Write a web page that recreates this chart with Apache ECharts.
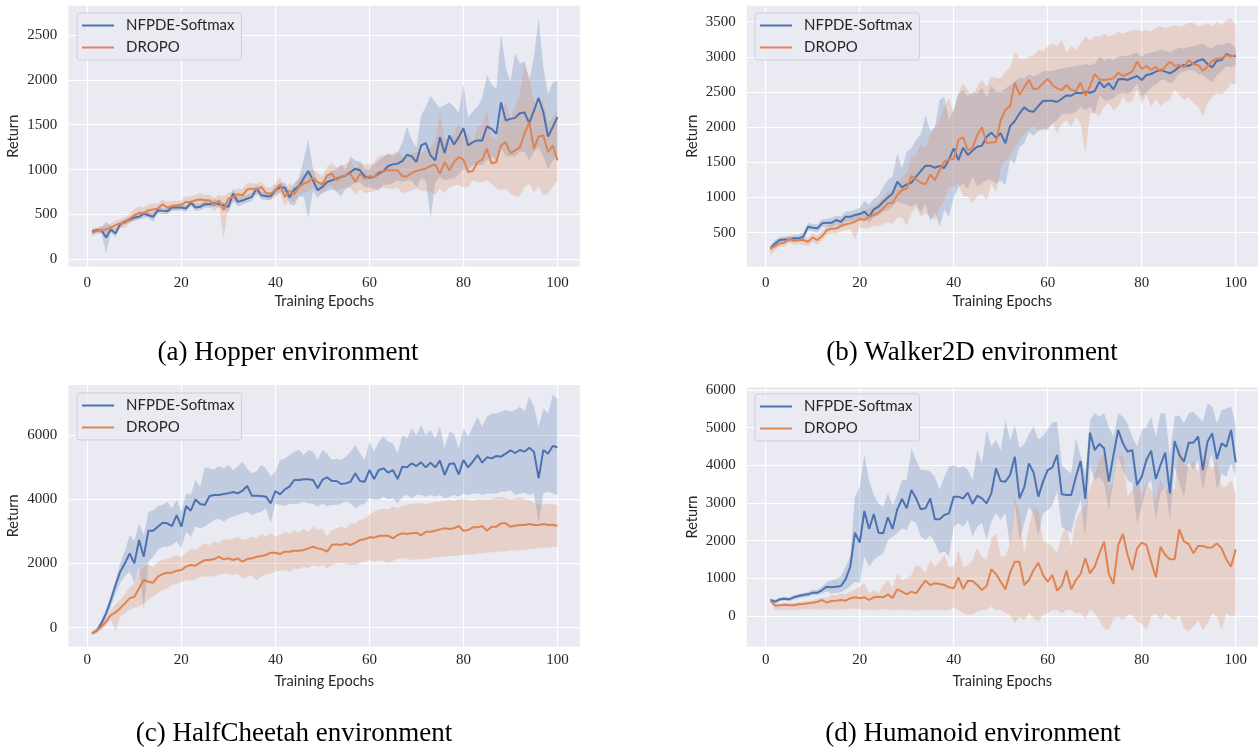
<!DOCTYPE html>
<html>
<head>
<meta charset="utf-8">
<script src="https://cdn.jsdelivr.net/npm/echarts@6/dist/echarts.min.js"></script>
<style>
  html, body { margin: 0; padding: 0; background: #fff; }
  #main { width: 1258px; height: 747px; }
</style>
</head>
<body>
<div id="main"></div>
<script>
// epochs and tick labels
var epochs = [1,2,3,4,5,6,7,8,9,10,11,12,13,14,15,16,17,18,19,20,21,22,23,24,25,26,27,28,29,30,
  31,32,33,34,35,36,37,38,39,40,41,42,43,44,45,46,47,48,49,50,51,52,53,54,55,56,57,58,59,60,
  61,62,63,64,65,66,67,68,69,70,71,72,73,74,75,76,77,78,79,80,81,82,83,84,85,86,87,88,89,90,
  91,92,93,94,95,96,97,98,99,100];
var xTicks = [0, 20, 40, 60, 80, 100];
var hopperTicks = [0, 500, 1000, 1500, 2000, 2500];
var walkerTicks = [500, 1000, 1500, 2000, 2500, 3000, 3500];
var cheetahTicks = [0, 2000, 4000, 6000];
var humanoidTicks = [0, 1000, 2000, 3000, 4000, 5000, 6000];

// (a) Hopper
var hopperNf = [307,325,325,244,333,289,392,418,444,466, 474,510,492,474,548,540,537,577,577,577,
  566,633,577,585,614,614,629,614,603,585, 733,640,655,677,696,788,714,703,703,770,
  800,800,690,777,813,900,984,880,770,807, 862,880,900,918,936,973,1010,992,925,910,
  918,955,984,1040,1058,1066,1095,1165,1147,1084, 1269,1295,1158,1103,1362,1184,1380,1280,1362,1462,
  1269,1306,1325,1325,1480,1454,1399,1750,1547,1565, 1576,1628,1635,1517,1658,1798,1639,1369,1473,1584];
var hopperNfHi = [340,350,360,420,370,340,420,450,470,500, 510,540,530,520,580,570,570,610,610,610,
  600,665,620,620,650,650,670,650,640,640, 790,700,700,720,740,830,760,740,740,820,
  850,860,760,850,900,1100,1340,1000,850,870, 950,990,1000,1050,1000,1150,1100,1090,1010,1000,
  1060,1100,1140,1180,1150,1190,1300,1480,1330,1250, 1600,1700,1820,1750,1690,1720,1750,1700,1640,1950,
  1580,1650,1700,1800,2050,1950,1900,2510,2140,1980, 2300,2180,2210,1990,2250,2690,2140,1840,1970,1990];
var hopperNfLo = [280,300,290,70,300,250,360,390,410,430, 440,480,460,420,510,505,500,545,545,545,
  530,600,540,550,575,575,590,575,560,520, 650,590,610,630,650,740,670,660,660,720,
  750,740,620,600,700,700,460,760,690,740, 760,780,760,700,800,820,860,860,810,800,
  790,770,830,830,850,880,860,880,880,800, 900,880,455,850,920,880,900,900,950,1000,
  1000,1050,1050,1050,1100,1150,1100,1250,1150,1150, 1150,1200,1200,1100,1200,1250,1150,1000,1100,1150];
var hopperDr = [296,315,326,333,355,381,400,407,455,492, 518,511,548,555,566,614,577,592,603,611,
  640,640,659,666,659,659,603,659,548,677, 696,725,714,777,788,777,807,740,733,770,
  833,696,762,725,807,844,862,906,862,833, 936,955,881,925,936,955,862,955,899,925,
  918,973,984,992,992,992,925,925,962,984, 999,1010,1040,1058,955,1084,992,1084,1140,1110,
  973,984,1084,1110,1232,1066,1084,1269,1306,1184, 1214,1251,1399,1528,1232,1369,1380,1195,1269,1103];
var hopperDrHi = [330,350,370,380,400,430,450,470,510,560, 590,580,610,620,620,670,640,650,650,660,
  700,700,720,740,720,720,680,720,700,740, 760,790,780,850,850,840,870,800,800,850,
  920,780,850,800,900,950,980,1010,960,930, 1030,1080,1020,1050,1060,1100,1000,1080,1050,1060,
  1080,1150,1160,1170,1180,1200,1150,1140,1180,1200, 1180,1220,1250,1320,1620,1350,1300,1400,1520,1380,
  1400,1290,1470,1510,1660,1360,1330,1550,1770,1550, 1700,1840,2180,2030,1770,1700,1770,1510,1580,1660];
var hopperDrLo = [260,280,290,290,310,330,350,350,400,430, 460,450,490,500,510,560,520,540,550,560,
  580,580,600,600,600,600,530,600,230,610, 630,660,650,700,720,710,740,680,670,690,
  740,600,670,640,720,740,760,800,760,740, 800,820,750,800,780,800,720,780,740,750,
  760,790,800,790,780,800,740,750,770,790, 770,760,750,720,790,740,800,820,830,800,
  810,880,860,860,880,840,790,770,790,730, 700,700,810,840,750,810,710,730,810,880];

// (b) Walker2D
var walkerNf = [277,348,396,405,405,420,420,443,585,570, 562,633,640,640,680,656,728,728,751,765,
  799,728,832,870,941,1002,1059,1225,1145,1187, 1211,1296,1377,1453,1453,1424,1450,1420,1543,1699,
  1533,1709,1604,1666,1723,1737,1865,1922,1851,1913, 1771,2017,2088,2197,2282,2230,2220,2301,2372,2377,
  2377,2358,2405,2452,2447,2490,2481,2505,2490,2515, 2647,2567,2624,2538,2680,2685,2671,2700,2728,2671,
  2742,2756,2790,2813,2790,2766,2804,2860,2884,2870, 2908,2946,2965,2898,2851,2946,2955,3040,3012,3012];
var walkerNfHi = [320,400,440,450,450,470,470,500,640,620, 620,690,700,710,740,730,800,800,830,850,
  950,900,980,1030,1150,1250,1300,1630,1420,1650, 1700,1820,1900,2170,1950,2000,2390,2430,2100,2250,
  2480,2530,2440,2500,2480,2560,2420,2600,2500,2500, 2550,2600,2650,2700,2700,2750,2720,2750,2800,2800,
  2800,2820,2830,2850,2860,2870,2880,2900,2880,2900, 3000,2950,2980,2950,3000,3020,3010,3040,3060,3000,
  3050,3060,3080,3100,3090,3060,3100,3130,3120,3140, 3150,3170,3190,3140,3120,3180,3160,3200,3190,3120];
var walkerNfLo = [230,300,350,360,360,370,370,390,530,520, 500,580,580,570,620,590,660,660,670,680,
  700,640,720,740,800,820,870,950,920,900, 870,920,780,920,660,780,590,820,730,1000,
  1150,1200,1120,1300,1160,1200,1250,1250,1200,1240, 1180,1530,1480,1720,1770,1930,1880,1960,1980,1960,
  2060,2100,2190,2190,2190,2220,2290,2240,2290,2200, 2450,2380,2380,2420,2470,2490,2470,2520,2620,2430,
  2490,2570,2600,2670,2670,2620,2670,2770,2790,2810, 2810,2760,2740,2690,2640,2740,2790,2870,2850,2880];
var walkerDr = [277,310,348,358,420,386,396,396,372,434, 396,453,538,557,560,595,618,633,656,694,
  680,728,751,789,846,917,927,1036,1107,1126, 1306,1258,1211,1187,1330,1249,1391,1510,1543,1543,
  1818,1856,1676,1699,1889,1998,1771,1785,1785,2102, 2244,2301,2633,2458,2567,2671,2538,2552,2624,2685,
  2600,2552,2529,2600,2529,2515,2633,2444,2586,2756, 2680,2671,2680,2694,2775,2728,2756,2790,2932,2827,
  2870,2813,2860,2790,2860,2932,2870,2884,2851,2955, 2894,2884,2804,2860,2941,2974,2979,3026,3003,3026];
var walkerDrHi = [310,350,390,400,460,430,440,450,430,490, 460,520,600,620,630,660,700,720,740,790,
  800,850,880,920,1000,1090,1100,1200,1300,1350, 1580,1600,1760,1700,1900,2000,2100,2280,2420,2200,
  2480,2620,2530,2440,2580,2670,2580,2720,2700,2700, 2790,2840,3070,2980,2960,3000,3020,3100,3080,3150,
  3190,3150,3240,3050,3150,3100,3190,3290,3240,3290, 3290,3330,3290,3310,3360,3330,3360,3380,3380,3360,
  3380,3360,3410,3430,3410,3430,3450,3430,3450,3480, 3480,3430,3450,3480,3430,3500,3450,3520,3550,3450];
var walkerDrLo = [180,250,300,300,360,330,340,330,310,370, 330,390,470,490,490,520,540,550,400,590,
  560,560,600,600,620,650,620,720,720,600, 775,870,730,775,730,680,870,965,1160,1150,
  1200,1020,1020,920,1020,1060,960,1200,1080,1440, 1530,1580,1720,1820,1910,1960,2010,1940,1960,1980,
  2050,1910,2050,2100,2000,2150,2050,1630,2200,2200, 2150,2290,2340,2240,2290,2430,2340,2380,2530,2340,
  2460,2290,2410,2290,2360,2390,2530,2460,2390,2430, 2340,2290,2150,2340,2430,2480,2460,2530,2620,2600];

// (c) HalfCheetah
var cheetahNf = [-176,-93,135,446,862,1329,1744,2003,2315,2003, 2730,2211,3021,3021,3145,3270,3249,3166,3508,3145,
  3789,3643,3996,3851,3820,4100,4131,4131,4162,4183, 4225,4183,4266,4411,4110,4110,4100,4079,3872,4256,
  4152,4308,4391,4598,4598,4619,4619,4598,4339,4600, 4680,4567,4567,4474,4494,4546,4806,4567,4546,4910,
  4629,4910,4962,4827,4910,4629,5014,4993,5118,5034, 5149,4993,5139,4993,5201,4754,5097,5118,4775,5222,
  4993,5170,5377,5139,5305,5274,5346,5325,5419,5522, 5439,5533,5481,5605,5481,4650,5533,5419,5657,5616];
var cheetahNfHi = [-130,-20,250,600,1000,1500,2000,2400,2880,2700, 3250,2890,3610,3660,3790,3820,3920,3720,3980,3610,
  4180,4140,4600,4390,5010,4960,4930,5030,4960,5070, 4910,5030,5170,4960,4810,4860,5070,4960,4700,4860,
  5220,5270,5380,5480,5530,5380,5530,5480,5220,5530, 5430,5220,5270,5220,5330,5480,5690,5430,5220,5790,
  5480,5790,5950,5790,5740,5430,6000,5900,6210,6000, 6310,6000,6160,5900,6260,5590,6100,6050,5590,6210,
  5950,6260,6570,6260,6570,6670,6670,6730,6780,6730, 6780,6880,6730,7190,6880,6260,6830,6670,7250,7140];
var cheetahNfLo = [-220,-170,30,300,650,1050,1400,1600,1750,1400, 1900,550,2050,2210,2420,2520,2520,2570,2680,2470,
  2990,2830,3150,3100,3150,3250,3350,3400,3300,3400, 3460,3510,3560,3610,3510,3560,3610,3720,3250,3870,
  3820,3790,3870,3850,3870,3920,3870,3870,3770,3870, 3790,3820,3820,3870,3920,3870,3720,3820,3870,4030,
  3980,3980,4080,4000,4030,3870,4080,4130,4030,4130, 4130,4080,4130,4080,4130,4030,4080,4130,4080,4180,
  4130,4180,4180,4130,4180,4180,4180,4230,4230,4280, 4130,4180,4200,4130,4180,3250,4180,4230,4180,4130];
var cheetahDr = [-176,-93,31,187,394,477,602,758,913,965, 1225,1484,1432,1401,1588,1671,1713,1713,1775,1796,
  1900,1951,1930,2024,2107,2107,2138,2211,2128,2160, 2107,2160,2055,2138,2160,2211,2232,2263,2335,2335,
  2294,2367,2367,2398,2398,2419,2470,2522,2470,2440, 2367,2574,2595,2574,2626,2574,2647,2730,2751,2813,
  2803,2855,2865,2865,2782,2886,2938,2917,2938,2958, 2875,2990,2990,3021,3062,3093,3072,3093,3166,3021,
  3041,3124,3124,3166,3021,3145,3145,3249,3249,3145, 3176,3197,3197,3228,3197,3197,3228,3197,3207,3166];
var cheetahDrHi = [-140,-40,120,300,560,720,880,1060,1250,1400, 1800,1900,1950,1900,2060,2110,2140,2210,2260,2210,
  2320,2470,2420,2520,2630,2570,2680,2630,2750,2730, 2780,2830,2730,2780,2830,2780,2920,2830,2940,2830,
  2890,2990,2920,3040,2960,3090,2990,3150,3040,3090, 2830,3040,3090,3150,3090,3250,3250,3350,3400,3500,
  3620,3680,3700,3680,3770,3720,3800,3820,3850,3870, 3890,3850,3890,3910,3920,3950,3980,3950,4000,4010,
  3980,3950,4010,3990,3980,4010,4060,4080,4040,3990, 4030,4060,4000,3960,3890,3850,3830,3850,3840,3820];
var cheetahDrLo = [-220,-160,-60,80,250,-100,330,450,560,620, 650,760,860,970,1070,1170,1220,1330,1360,1430,
  1480,1480,1510,1590,1590,1610,1590,1640,1690,1670, 1640,1670,1540,1590,1640,1480,1590,1670,1690,1740,
  1780,1800,1740,1850,1820,1900,1850,1950,1900,1950, 1850,1950,2000,2020,1980,1950,1950,2020,2050,2100,
  2060,2100,2080,2020,2070,2140,2170,2150,2110,2120, 2130,2150,2160,2190,2200,2210,2230,2230,2250,2260,
  2280,2280,2300,2320,2330,2350,2360,2370,2380,2400, 2400,2410,2430,2440,2460,2470,2480,2490,2510,2520];

// (d) Humanoid
var humanoidNf = [425,381,443,460,443,496,531,558,575,620, 620,690,779,761,779,797,974,1310,2213,1947,
  2788,2310,2708,2213,2195,2620,2310,2832,3106,2859, 3345,3124,2832,2859,3124,2567,2567,2682,2726,3168,
  3168,3124,3275,2974,3195,3124,2991,3257,3921,3584, 3567,3744,4230,3124,3416,4053,3806,3168,3567,3876,
  3947,4275,3230,3210,3210,3699,4115,3106,4868,4407, 4567,4452,3567,4275,4938,4584,4363,4407,3478,3699,
  4142,4390,3637,4009,4337,3257,4646,4275,4098,4602, 4602,4761,3876,4629,4850,4168,4584,4496,4938,4080];
var humanoidNfHi = [470,430,490,510,500,550,590,610,640,690, 700,780,900,950,980,1050,1310,1600,3170,3430,
  4280,3610,3210,2990,2900,3260,2950,3210,3610,3610, 4450,4140,3880,3880,3830,3700,3350,3700,3960,4010,
  3920,3980,3880,3610,4410,4050,4940,4500,4670,4410, 5200,4650,5070,4470,4560,4820,5040,4690,4780,4960,
  5140,5160,4010,3880,3790,4720,4270,3790,5200,5380, 5290,5380,5020,4760,5380,5290,5110,4760,4500,4940,
  5020,5290,4760,5380,5380,4230,5290,5330,5110,5380, 5420,5290,5160,5650,5560,5110,5470,5510,5560,5070];
var humanoidNfLo = [380,330,390,410,390,440,470,500,510,550, 550,600,650,600,620,630,690,800,910,870,
  1580,1310,1490,1580,1660,2020,2110,2200,2330,2280, 2550,2460,2110,2020,2150,1930,1660,1710,1580,2370,
  2460,2370,2550,2110,2370,2460,2020,2500,2730,2550, 2730,1840,3000,2020,2460,2900,2720,2130,2720,2810,
  2940,3330,2370,2280,2200,2720,3080,2110,3960,3610, 3700,3520,2810,3610,4230,3880,3610,3520,2460,2900,
  3430,3610,2550,3250,3430,2550,3960,3520,3170,4060, 3880,4140,3340,3960,4320,3340,3790,3700,4060,3700];
var humanoidDr = [407,274,283,301,283,283,310,319,336,354, 380,425,354,398,407,425,407,469,496,469,
  496,425,496,513,496,575,478,708,646,575, 646,602,779,938,823,867,850,823,761,735,
  1027,717,938,929,823,690,797,1239,1115,912, 708,1151,1443,1443,823,956,1221,1416,1089,912,
  1089,673,805,1204,708,956,1115,1531,1133,1310, 1664,1974,1115,850,1885,2177,1620,1221,1797,1947,
  1885,1443,1027,1841,1620,1505,1505,2301,1974,1912, 1664,1859,1859,1814,1823,1929,1797,1505,1310,1770];
var humanoidDrHi = [440,330,330,350,340,345,370,380,400,420, 450,500,480,560,560,600,580,650,700,780,
  870,600,700,600,820,950,740,1130,960,1000, 1090,1350,1310,1130,1490,1310,1440,1620,1310,1310,
  1750,1310,1350,1490,1800,1580,1490,2060,2200,1580, 1580,1930,3170,2770,1660,2370,2900,2810,2020,1930,
  1840,1660,2150,2370,1840,2550,2810,2900,3390,3740, 4140,4360,3350,3610,4230,4270,3170,3350,3610,3210,
  3520,3350,3080,3610,3350,3390,3350,4580,4050,3920, 4140,3790,4270,4140,3880,4140,3430,3430,3610,3260];
var humanoidDrLo = [380,150,160,170,160,150,170,170,180,170, 170,170,180,170,170,170,180,190,190,170,
  160,170,150,160,180,170,150,170,160,160, 160,140,170,150,160,150,160,140,160,230,
  160,70,30,30,120,160,160,250,160,160, 70,30,-190,-20,-110,70,-60,-150,30,70,
  160,160,70,160,160,70,70,-60,160,70, -110,-330,-370,-60,-20,-110,30,30,-150,-190,
  -370,-20,70,-110,70,-20,-110,30,-330,-420, -280,-110,-370,-190,70,-20,-370,70,-20,30];

var blue = '#4C72B0', orange = '#DD8452';
var blueBand = 'rgba(76,114,176,0.25)', orangeBand = 'rgba(221,132,82,0.25)';
var tickFont = 'Liberation Serif', sansFont = 'Lato';

var panels = [
  { caption: '(a) Hopper environment', capX: 288, capY: 339,
    grid: { left: 68.3, top: 5.7, width: 511.7, height: 261 },
    xMin: -4.05, xMax: 104.8, yMin: -82, yMax: 2826, yTicks: hopperTicks, xMargin: 9,
    legend: { left: 77, top: 13 },
    nf: [hopperNf, hopperNfLo, hopperNfHi], dr: [hopperDr, hopperDrLo, hopperDrHi] },
  { caption: '(b) Walker2D environment', capX: 972, capY: 339,
    grid: { left: 746.7, top: 5.7, width: 511.3, height: 261 },
    xMin: -4.04, xMax: 104.74, yMin: 17, yMax: 3727, yTicks: walkerTicks, xMargin: 9,
    legend: { left: 755, top: 13 },
    nf: [walkerNf, walkerNfLo, walkerNfHi], dr: [walkerDr, walkerDrLo, walkerDrHi] },
  { caption: '(c) HalfCheetah environment', capX: 294, capY: 720,
    grid: { left: 68.3, top: 385, width: 511.7, height: 261.7 },
    xMin: -4.05, xMax: 104.8, yMin: -592, yMax: 7557, yTicks: cheetahTicks, xMargin: 6,
    legend: { left: 77, top: 393 },
    nf: [cheetahNf, cheetahNfLo, cheetahNfHi], dr: [cheetahDr, cheetahDrLo, cheetahDrHi] },
  { caption: '(d) Humanoid environment', capX: 973, capY: 720,
    grid: { left: 746.7, top: 387.3, width: 511.3, height: 259.4 },
    xMin: -4.04, xMax: 104.74, yMin: -815, yMax: 6072, yTicks: humanoidTicks, xMargin: 6,
    legend: { left: 755, top: 394 },
    nf: [humanoidNf, humanoidNfLo, humanoidNfHi], dr: [humanoidDr, humanoidDrLo, humanoidDrHi] }
];

function pairs(arr) {
  return epochs.map(function (e, i) { return [e, arr[i]]; });
}

function plainNumber(v) {
  return String(v);
}

// band drawn as one polygon through the axis scales
function bandSeries(idx, lo, hi, color) {
  return {
    type: 'custom',
    xAxisIndex: idx, yAxisIndex: idx,
    silent: true, z: 1, clip: true,
    data: epochs.map(function (e, i) { return [e, lo[i], hi[i]]; }),
    encode: { x: 0, y: [1, 2] },
    renderItem: function (params, api) {
      if (params.dataIndex !== 0) return;
      var pts = [];
      for (var i = 0; i < epochs.length; i++) pts.push(api.coord([epochs[i], hi[i]]));
      for (var j = epochs.length - 1; j >= 0; j--) pts.push(api.coord([epochs[j], lo[j]]));
      return { type: 'polygon', shape: { points: pts }, style: { fill: color } };
    }
  };
}

function lineSeries(idx, name, arr, color) {
  return {
    type: 'line', name: name,
    xAxisIndex: idx, yAxisIndex: idx,
    data: pairs(arr), color: color,
    showSymbol: false, symbol: 'none', z: 3,
    lineStyle: { width: 2, color: color }
  };
}

var grids = [], xAxes = [], yAxes = [], series = [], legends = [], titles = [];

panels.forEach(function (p, i) {
  grids.push(Object.assign({ show: true, backgroundColor: '#EAEAF2', borderWidth: 0 }, p.grid));

  xAxes.push({
    type: 'value', gridIndex: i, min: p.xMin, max: p.xMax,
    axisLine: { show: false },
    axisTick: { show: false, customValues: xTicks },
    axisLabel: { customValues: xTicks, formatter: plainNumber, margin: p.xMargin,
      fontFamily: tickFont, fontSize: 15, color: '#262626' },
    splitLine: { show: true, lineStyle: { color: '#ffffff', width: 1.2 } },
    name: 'Training Epochs', nameLocation: 'middle', nameGap: 27,
    nameTextStyle: { fontFamily: sansFont, fontSize: 14.5, color: '#262626' }
  });

  yAxes.push({
    type: 'value', gridIndex: i, min: p.yMin, max: p.yMax,
    axisLine: { show: false },
    axisTick: { show: false, customValues: p.yTicks },
    axisLabel: { customValues: p.yTicks, formatter: plainNumber, margin: 11,
      fontFamily: tickFont, fontSize: 15, color: '#262626' },
    splitLine: { show: true, lineStyle: { color: '#ffffff', width: 1.2 } },
    name: 'Return', nameLocation: 'middle', nameGap: 47,
    nameTextStyle: { fontFamily: sansFont, fontSize: 14.5, color: '#262626' }
  });

  series.push(bandSeries(i, p.nf[1], p.nf[2], blueBand));
  series.push(bandSeries(i, p.dr[1], p.dr[2], orangeBand));
  series.push(lineSeries(i, 'NFPDE-Softmax', p.nf[0], blue));
  series.push(lineSeries(i, 'DROPO', p.dr[0], orange));

  legends.push({
    data: ['NFPDE-Softmax', 'DROPO'],
    left: p.legend.left, top: p.legend.top,
    orient: 'vertical', icon: 'rect',
    itemWidth: 32, itemHeight: 2, itemGap: 5,
    padding: [4, 7, 4, 5],
    backgroundColor: 'rgba(234,234,242,0.8)',
    borderColor: '#cfcfd7', borderWidth: 1, borderRadius: 3,
    selectedMode: false,
    textStyle: { fontFamily: sansFont, fontSize: 15, color: '#262626', lineHeight: 17, padding: [0, 0, 0, 7] }
  });

  titles.push({
    text: p.caption, left: p.capX, top: p.capY, textAlign: 'center', padding: 0,
    textStyle: { fontFamily: 'Liberation Serif', fontSize: 27, fontWeight: 'normal', color: '#000' }
  });
});

var chart = echarts.init(document.getElementById('main'), null, { renderer: 'canvas' });
chart.setOption({
  animation: false,
  backgroundColor: '#ffffff',
  title: titles,
  legend: legends,
  grid: grids,
  xAxis: xAxes,
  yAxis: yAxes,
  series: series
});
</script>
</body>
</html>
